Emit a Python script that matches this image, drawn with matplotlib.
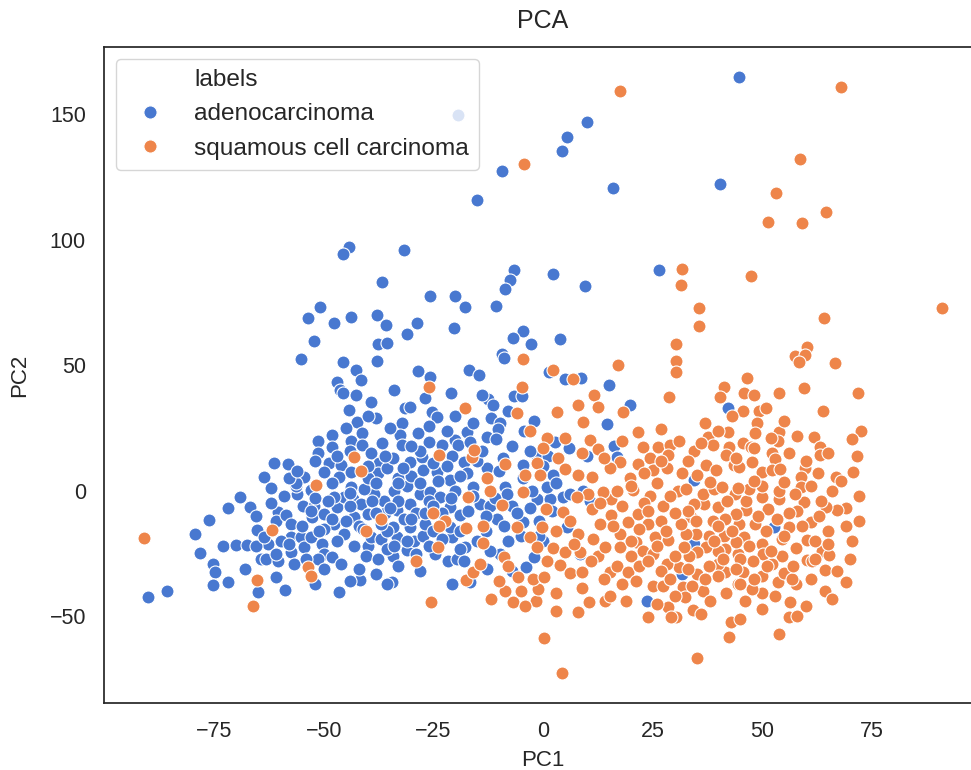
import matplotlib
matplotlib.use("Agg")
import matplotlib.pyplot as plt
from matplotlib.lines import Line2D

plt.rcParams['font.family'] = ['Liberation Sans', 'DejaVu Sans']

# PCA scores
adeno_pc1 = [
    -44.2, -45.6, 10.1, 5.4, 4.3, -9.4, 16.0, -15.1, -31.7, -19.4,
    -6.6, 26.5, 44.7, 40.3, 42.1, 34.5, 31.8, 52.7, 34.5, 23.6,
    -20.8, -16.6, -12.7, -3.9, -2.1, -9.8, -21.6, -19.7, -24.6, -17.8,
    -31.0, -34.1, -34.5, -20.8, -29.5, -33.3, -27.3, -10.5, -4.5, 0.1,
    4.6, 6.2, 9.2, 10.7, -1.4, 1.6, -2.6, 0.8, -8.7, 8.4,
    5.4, -30.3, -34.1, -33.3, -28.0, -25.7, -23.5, -21.2, -30.3, -31.8,
    -21.2, -18.9, -15.9, -14.4, -8.3, -18.9,
    -90.1, -85.8, -79.3, -78.1, -76.2, -71.9, -69.0, -66.7, -65.4, -75.3,
    -74.9, -75.2, -71.9, -72.9, -70.0, -67.5, -67.9, -64.9, -60.9, -58.8,
    -46.5, -41.8, -35.5, -65.1, -64.3, -63.2, -60.5, -62.8, -60.9, -65.4,
    -60.5, -60.9, -58.6, -57.5, -57.5, -57.5, -56.7, -55.2, -54.4, -52.9,
    -50.3, -49.9, -48.0, -51.4, -56.0, -54.8, -52.6, -52.2, -49.9, -47.6,
    -46.9, -45.3, -45.3, -47.6, -43.4, -43.1, -41.5, -40.0, -40.0, -40.4,
    -37.7, -39.2, -37.0, -35.5, -35.5, -36.2, -38.5, -40.8, -43.8, -56.3,
    -59.7, -63.7,
    -36.6, -50.8, -53.5, -47.6, -43.7, -37.9, -35.8, -52.3, -37.6, -35.5,
    -55.2, -45.5, -37.9, -42.7, -41.4, -46.9, -46.2, -45.5, -42.7, -39.2,
    -44.2, -38.1, -42.4, -41.2, -48.0, -51.4, -43.8, -41.2, -36.6, -48.1,
    -51.4, -39.2, -61.3, -58.2, -63.7, -48.7, -46.1, -46.5, -43.8, -37.4,
    -37.7, -35.5, -54.4, -56.3, -49.9, -40.0,
    2.3, -7.5, -8.7, 9.6, -25.7, -20.0, -17.8, -10.7, -28.8, -31.0,
    -20.2, -4.5, -6.8, -2.8, 3.9, -9.4, -9.0, -28.6, -25.7, -16.9,
    -14.5, 1.4, 5.0, 8.6, 15.1, 19.8, -31.4, -30.3, -25.4, -24.2,
    -12.5, -11.3, -6.6, -4.9, -11.9, -9.8, -10.2, -32.2, -4.3, 14.5,
    -17.4, -12.8, -10.7, 2.7, 6.0, 16.2, 10.0, 16.8, -32.6, -32.2,
    -28.4, -26.1, -23.1, -20.0, -19.3, -16.6, -34.1, -30.3, -27.6, -20.8,
    -18.0, -12.8, -9.2, -4.5, -1.4, 1.2, -33.0, -27.3, -24.2, -21.2,
    -17.4, -4.5, 2.3,
    -53.0, -48.0, -44.0, -38.0, -34.0, -31.0, -29.0, -26.0, -23.0, -27.0,
    -24.0, -50.0, -42.0, -36.0, -33.0, -30.0, -20.0, -16.0, -12.0, -7.0,
    -13.0, -8.0, -5.0, -25.0, -28.0, -22.0, -15.0, -52.0, -58.0, -62.0,
    -62.0, -59.0, -55.0, -53.0, -51.0, -49.0, -47.0, -45.0, -43.0, -41.0,
    -39.0, -37.0, -35.0, -33.0, -31.0, -29.0, -27.0, -25.0, -23.0, -21.0,
    -19.0, -17.0, -15.0, -13.0, -11.0, -9.0, -6.0, -3.0, -1.0, 2.0,
    -58.0, -54.0, -50.0, -46.0, -42.0, -38.0, -33.0, -28.0, -44.0, -52.0,
    -56.0, -52.0, -47.0, -44.0, -40.0, -36.0, -32.0, -28.0, -25.0, -22.0,
    -19.0, -14.0, -10.0, -7.0, -3.0, 0.0, 3.0, -45.0, -40.0, -35.0,
    -30.0, -26.0, -20.0, -16.0, -14.0, -21.0, -27.0, -34.0, -8.0, -2.0,
    -48.0, -44.0, -38.0, -34.0, -30.0, -26.0, -18.0, -12.0, -7.0, -1.0,
]
adeno_pc2 = [
    97.2, 94.5, 147.0, 141.0, 135.5, 127.2, 120.7, 115.8, 96.1, 149.5,
    88.0, 88.0, 164.9, 122.2, 32.9, 4.4, -33.3, -14.2, -21.1, -43.7,
    -37.1, -36.4, -31.1, -30.4, -26.4, -25.1, -28.0, -27.1, -25.1, -22.4,
    -23.5, -25.8, -36.4, -18.4, -19.8, -18.4, -17.8, -11.2, -12.5, -19.8,
    -2.5, -1.2, 0.1, -3.9, -3.2, -3.2, 0.1, 1.5, 1.5, -25.1,
    -14.5, -5.2, -14.5, -7.8, -1.2, -0.5, -2.5, -6.5, -14.5, -11.2,
    -14.5, -9.8, 1.5, -5.2, -1.2, -23.1,
    -42.1, -40.0, -17.1, -24.7, -11.6, -6.9, -2.5, -6.3, -10.1, -29.1,
    -32.4, -37.3, -36.4, -21.8, -21.5, -21.4, -31.1, -40.4, -34.1, -39.4,
    -40.4, -35.5, -37.1, -15.5, -27.1, -27.1, -27.8, -21.1, -25.1, -21.8,
    -8.5, -11.8, -9.8, -13.1, -18.4, -24.4, -29.1, -18.4, -22.4, -18.4,
    -21.1, -25.1, -26.2, -27.1, -1.2, -5.9, -10.5, -5.9, -9.2, -13.1,
    -6.5, -17.1, -2.5, -2.5, -3.2, -10.5, -5.2, -9.2, -21.8, -25.8,
    -27.1, -18.4, -19.1, -23.1, -15.8, -3.9, -1.2, 0.8, 1.5, 2.1,
    -19.8, -18.4,
    83.1, 73.4, 69.0, 66.8, 69.2, 70.1, 66.1, 59.8, 58.4, 58.8,
    52.5, 51.5, 51.8, 48.2, 44.2, 43.3, 40.2, 38.9, 38.0, 35.3,
    32.3, 29.2, 27.6, 23.0, 22.3, 19.9, 19.9, 18.3, 19.0, 17.3,
    15.0, 15.0, 11.0, 10.8, 5.7, 11.0, 10.4, 5.7, 7.7, 11.0,
    7.1, 9.0, 5.7, 3.1, 7.7, 5.1,
    86.3, 84.1, 80.5, 81.4, 77.8, 77.8, 73.4, 73.8, 66.8, 62.4,
    64.8, 63.5, 60.8, 58.4, 60.6, 54.5, 52.9, 47.8, 45.5, 48.2,
    46.2, 47.5, 44.6, 45.1, 42.0, 34.3, 32.9, 33.6, 31.4, 29.6,
    36.7, 34.3, 37.6, 37.6, 29.2, 27.0, 24.7, 27.0, 23.9, 26.6,
    23.6, 21.6, 20.7, 19.6, 17.0, 17.9, 13.7, 13.3, 22.3, 18.3,
    23.0, 19.6, 18.3, 20.3, 18.3, 19.6, 13.0, 11.4, 13.3, 13.7,
    11.7, 9.0, 13.0, 10.4, 13.7, 13.7, 5.1, 8.4, 7.7, 4.4,
    7.1, 5.1, 6.4,
    0.5, 3.0, -6.0, 3.0, 0.0, 2.0, -9.0, -4.0, -9.0, -13.0,
    4.0, -15.0, -14.0, -9.0, -4.0, 6.0, 0.0, -2.0, -6.0, -6.0,
    -16.0, -20.0, -18.0, 11.0, 16.0, 24.0, 12.0, -3.0, 5.0, 1.0,
    -5.0, -2.0, -14.0, -8.0, -16.0, -4.0, -20.0, -12.0, -22.0, -15.0,
    -4.0, -13.0, -7.0, 3.0, -20.0, -25.0, -9.0, -16.0, -19.0, -3.0,
    -16.0, -8.0, -20.0, -10.0, -3.0, -14.0, -9.0, -7.0, -12.0, -8.0,
    -21.0, -27.0, -31.0, -29.0, -31.0, -33.0, -30.0, -32.0, -36.0, -37.0,
    8.0, 12.0, 14.0, 16.0, 10.0, 14.0, 9.0, 3.0, -6.0, 10.0,
    6.0, 16.0, 8.0, 18.0, 16.0, 10.0, 3.0, 25.0, 30.0, 25.0,
    18.0, 26.0, 30.0, 27.0, 38.0, 39.0, 37.0, 40.0, 32.0, 28.0,
    -11.0, -1.0, -9.0, -22.0, -11.0, -22.0, -28.0, -24.0, -32.0, -18.0,
]

squam_pc1 = [
    17.5, -4.3, 68.0, 58.7, 53.1, 64.6, 51.3, 59.1, 31.8, 31.4,
    47.4, 35.6, 35.6, 64.1, 91.0, 30.3, 30.3, 30.3, 60.3, 57.5,
    59.8, 58.4, 66.6, 46.6, 41.3, 40.3, 45.9, 48.0, 53.8, 59.5,
    71.8, 45.7, 49.3, 50.8, 63.9, 48.7, 48.4, 42.1, 37.7, 53.8,
    53.5, 61.7, 72.6, 70.5, 38.7, 42.4, 45.5, 47.4, 34.5, 41.8,
    52.3, 52.9, 63.1, 63.1, 71.5, 47.6, 37.1, 39.4, 43.6, 44.7,
    31.8, 35.2, 49.9, 52.3, 54.0, 59.8, 62.6, 70.7, 66.7, 58.8,
    69.0, 67.1, 64.6, 63.3, 64.9, 70.5, 63.7, 65.2, 64.2, 69.2,
    64.2, 61.0, 60.3, 60.1, 61.4, 59.5, 58.8, 57.5, 57.6, 57.6,
    56.1, 54.4, 56.3, 56.0, 53.7, 53.3, 54.6, 52.3, 53.5, 55.0,
    56.7, 53.8, 53.8, 50.8, 49.9, 50.2, 49.9, 50.0, 47.6, 51.2,
    49.9, 50.0, 48.4, 47.9, 46.2, 46.4, 47.0, 45.9, 45.5, 44.4,
    44.4, 43.9, 42.8, 42.3, 41.8, 44.7, 44.0, 43.8, 41.5, 41.3,
    41.5, 41.5, 39.8, 37.9, 39.8, 39.8, 38.7, 37.9, 37.1, 36.4,
    35.2, 36.7, 36.4, 34.5, 33.7, 34.9, 35.2, 33.3, 32.6, 32.2,
    31.4, 32.0, 32.4, 34.1, 35.2, 31.0, 30.7, 32.6, 39.0, 40.9,
    44.4, 30.3,
    4.3, 0.2, -25.6, 8.0, 10.5, 14.1, 15.3, 24.0, 28.5, 29.3,
    -11.9, -8.7, -6.8, -5.0, -1.7, -1.1, 2.9, -5.6, -2.2, 0.2,
    -17.5, -15.9, -14.4, -28.9, -24.0, -8.8, -13.7, -13.6, -17.5, -25.0,
    -22.3, -23.8, -17.0, -12.1, -9.3, -4.6, 0.7, -5.9, -3.0, -1.4,
    -0.3, 2.3, 3.9, 6.2, 8.8, 9.0, 4.6, 6.2, 8.0, 8.4,
    5.0, 11.1, 13.1, 11.5, 12.6, 15.3, 16.8, 15.6, 16.8, 15.6,
    17.5, 14.1, 17.5, 19.4, 21.7, 21.3, 22.8, 19.4, 21.3, 25.1,
    27.4, 24.4, 24.0, 27.0, 25.5, 28.5, 25.1, 28.2, 27.4, 10.3,
    7.7, 13.7, 20.6,
    -91.0, -61.9, -65.1, -66.1, -53.5, -52.8, -40.4, -37.0, -51.7, -43.2,
    -41.5,
    -4.6, 2.2, 17.0, 6.8, -26.1, -4.9, 11.6, 8.0, 12.6, -17.8,
    -5.9, 3.3, 18.3, 9.2, 28.8, 1.0, 10.7, 12.6, 21.7, 27.0,
    22.8, 26.3, 28.9, 28.5, 21.7, 24.4, 17.5, 15.3, 25.1, 28.2,
    19.8, 3.5, 5.0, 8.0, 11.1, -1.4, -4.1, -0.7, -8.7, -12.8,
    -23.8, -16.2, -15.7,
    20.0, 23.0, 18.0, 26.0, 29.0, 33.0, 22.0, 30.0, 38.0, 42.0,
    48.0, 55.0, 61.0, 66.0, 45.0, 40.0, 58.0, 62.0,
    20.0, 22.0, 24.0, 26.0, 28.0, 30.0, 33.0, 35.0, 37.0, 39.0,
    41.0, 43.0, 45.0, 47.0, 49.0, 51.0, 53.0, 55.0, 57.0, 59.0,
    61.0, 63.0, 65.0, 67.0, 69.0, 66.0, 60.0, 50.0, 46.0, 38.0,
    30.0, 27.0, 18.0, 14.0, 11.0, 7.0, 3.0, 1.0, 13.0, 16.0,
    20.0, 24.0, 29.0, 34.0, 40.0, 44.0, 48.0, 52.0, 56.0, 62.0,
    23.0, 27.0, 33.0, 36.0, 40.0, 44.0, 48.0, 52.0, 56.0, 60.0,
    65.0, 68.0, 72.0, 70.0, 72.0, 31.0, 37.0, 43.0, 55.0, 58.0,
    18.0, 14.0, 9.0, 5.0, 0.0, -3.0, -8.0, -10.0, -4.0, 3.0,
    19.0, 26.0, 36.0, 45.0, 58.0,
]
squam_pc2 = [
    159.4, 130.0, 160.7, 132.3, 118.6, 110.9, 106.9, 106.5, 88.5, 82.1,
    85.4, 73.0, 65.5, 68.8, 72.8, 58.6, 51.8, 47.5, 57.5, 53.9,
    54.2, 51.5, 51.0, 45.1, 41.2, 37.2, 38.8, 38.2, 38.9, 40.9,
    38.9, 31.9, 31.9, 32.9, 32.0, 27.0, 23.0, 23.6, 21.6, 23.6,
    19.9, 21.6, 24.0, 20.7, 18.3, 17.6, 19.0, 17.6, 15.7, 14.3,
    15.0, 12.7, 17.6, 14.1, 13.7, 11.4, 10.4, 8.4, 10.4, 9.7,
    7.1, 6.4, 7.7, 8.4, 8.8, 9.0, 7.1, 7.7, 5.7, 5.7,
    -6.8, -7.6, -6.5, -3.9, -16.1, -19.8, -23.8, -25.4, -31.4, -36.1,
    -39.7, -12.5, -19.5, -27.5, -27.8, -4.5, 1.5, -1.2, -22.7, -37.1,
    -14.2, -25.8, -44.3, -50.1, -57.0, -11.2, -19.1, -29.1, -36.4, -32.8,
    -35.1, -3.2, 0.1, -15.8, -21.1, -25.1, -33.7, -40.8, -39.0, -7.2,
    -2.5, 2.1, -13.1, -27.8, -7.8, -3.9, 0.8, -18.4, -32.4, -25.1,
    -37.1, -20.4, -52.3, -58.0, -40.8, -13.1, -9.2, -1.2, -11.2, -17.8,
    -32.4, -23.1, -29.1, -17.8, -23.8, -6.5, -11.8, -29.8, -22.4, -39.7,
    -33.1, -5.2, -1.2, -5.2, -10.5, -17.1, -24.4, -25.8, -17.1, -22.4,
    -13.1, -38.4, -42.4, -47.4, -66.7, -30.4, 0.1, 0.8, 0.8, 1.7,
    1.2, -50.3,
    -72.6, -58.6, -44.3, -48.3, -44.3, -43.9, -41.7, -50.1, -46.1, -50.3,
    -43.0, -39.7, -44.3, -40.0, -43.7, -39.0, -40.8, -34.4, -35.1, -34.1,
    -35.5, -32.4, -29.1, -27.8, -22.2, -26.4, -20.8, -13.8, -14.7, -8.9,
    -12.1, -13.8, -2.5, -0.1, -5.5, -0.5, -7.2, -14.2, -18.2, -22.2,
    -14.5, -22.7, -29.4, -32.8, -38.6, -32.4, -8.5, -11.8, -17.1, -24.4,
    -24.4, -7.2, -13.1, -19.1, -25.8, -32.4, -29.8, -3.2, 0.1, -9.8,
    -17.1, -22.4, -22.2, -12.5, -9.2, -20.4, -23.8, -32.4, -35.7, -37.7,
    -37.7, -1.9, -13.1, -12.1, -18.4, -19.5, -25.1, -29.1, -5.9, -1.2,
    -2.5, -0.5, 0.4,
    -18.7, -15.5, -35.5, -45.8, -30.4, -33.7, -15.8, -11.2, 2.4, 13.4,
    8.0,
    52.5, 48.2, 50.2, 44.6, 41.2, 41.2, 38.0, 34.3, 33.6, 33.2,
    31.0, 31.6, 31.6, 27.6, 37.2, 21.2, 20.3, 16.6, 23.4, 24.7,
    17.6, 17.3, 18.3, 14.1, 10.6, 13.0, 11.7, 9.0, 8.4, 9.0,
    5.1, 13.0, 8.8, 6.4, 5.7, 11.0, 6.4, 6.4, 10.6, 5.1,
    14.1, 13.3, 16.3,
    2.0, -5.0, -6.0, 3.0, -2.0, -8.0, -15.0, -9.0, 3.5, -4.0,
    4.0, 3.5, 2.0, 0.0, -27.0, -34.0, -8.0, -20.0,
    -26.0, -30.0, -8.0, -22.0, -16.0, -26.0, -31.0, -12.0, -35.0, -20.0,
    -27.0, -16.0, -37.0, -22.0, -10.0, -30.0, -42.0, -18.0, -30.0, -14.0,
    -35.0, -10.0, -21.0, -32.0, -14.0, -43.0, -46.0, -47.0, -44.0, -44.0,
    -42.0, -32.0, -37.0, -35.0, -28.0, -21.0, -16.0, -28.0, -5.0, -14.0,
    -20.0, -28.0, -35.0, -38.0, -14.0, -31.0, -35.0, -24.0, -9.0, -27.0,
    7.0, 12.0, 12.0, 19.0, 24.0, 13.0, 17.0, 21.0, 15.0, 12.0,
    15.0, 4.0, -2.0, -27.0, -12.0, 20.0, 27.0, 30.0, 28.0, 22.0,
    20.0, 13.0, 15.0, 21.0, 17.0, 24.0, -30.0, -36.0, -46.0, -48.0,
    -44.0, -45.0, -49.0, -51.0, -50.0,
]

labels = ['adenocarcinoma', 'squamous cell carcinoma']
colors = ['#4878d0', '#ee854a']
ink = '#262626'

fig = plt.figure(figsize=(9.71, 7.7), dpi=100)
ax = fig.add_axes([104 / 971, 67 / 770, 878 / 971, 656 / 770])

ax.scatter(adeno_pc1, adeno_pc2, s=88, c=colors[0], edgecolors='white',
           linewidths=0.8, zorder=2)
ax.scatter(squam_pc1, squam_pc2, s=88, c=colors[1], edgecolors='white',
           linewidths=0.8, zorder=2)

ax.set_xticks([-75, -50, -25, 0, 25, 50, 75])
ax.set_yticks([-50, 0, 50, 100, 150])
ax.tick_params(length=0, pad=13, labelsize=15.5, colors=ink)
for sp in ax.spines.values():
    sp.set_color(ink)
    sp.set_linewidth(1.25)

ax.set_xlabel('PC1', fontsize=16, color=ink, labelpad=6)
ax.set_ylabel('PC2', fontsize=16, color=ink, labelpad=14)
ax.set_title('PCA', fontsize=18, color=ink, pad=14)

# legend with the hue name as a handle-less first row
handles = [Line2D([], [], linestyle='none')]
handles += [Line2D([], [], linestyle='none', marker='o', markersize=9.5,
                   markerfacecolor=c, markeredgecolor='white',
                   markeredgewidth=0.8) for c in colors]
leg = ax.legend(handles, ['labels'] + labels, loc='upper left',
                fontsize=17.6, labelspacing=0.5, borderaxespad=0.5,
                frameon=True, edgecolor='0.8', framealpha=0.8)
for t in leg.get_texts():
    t.set_color(ink)

fig.savefig('out.png', dpi=100)
